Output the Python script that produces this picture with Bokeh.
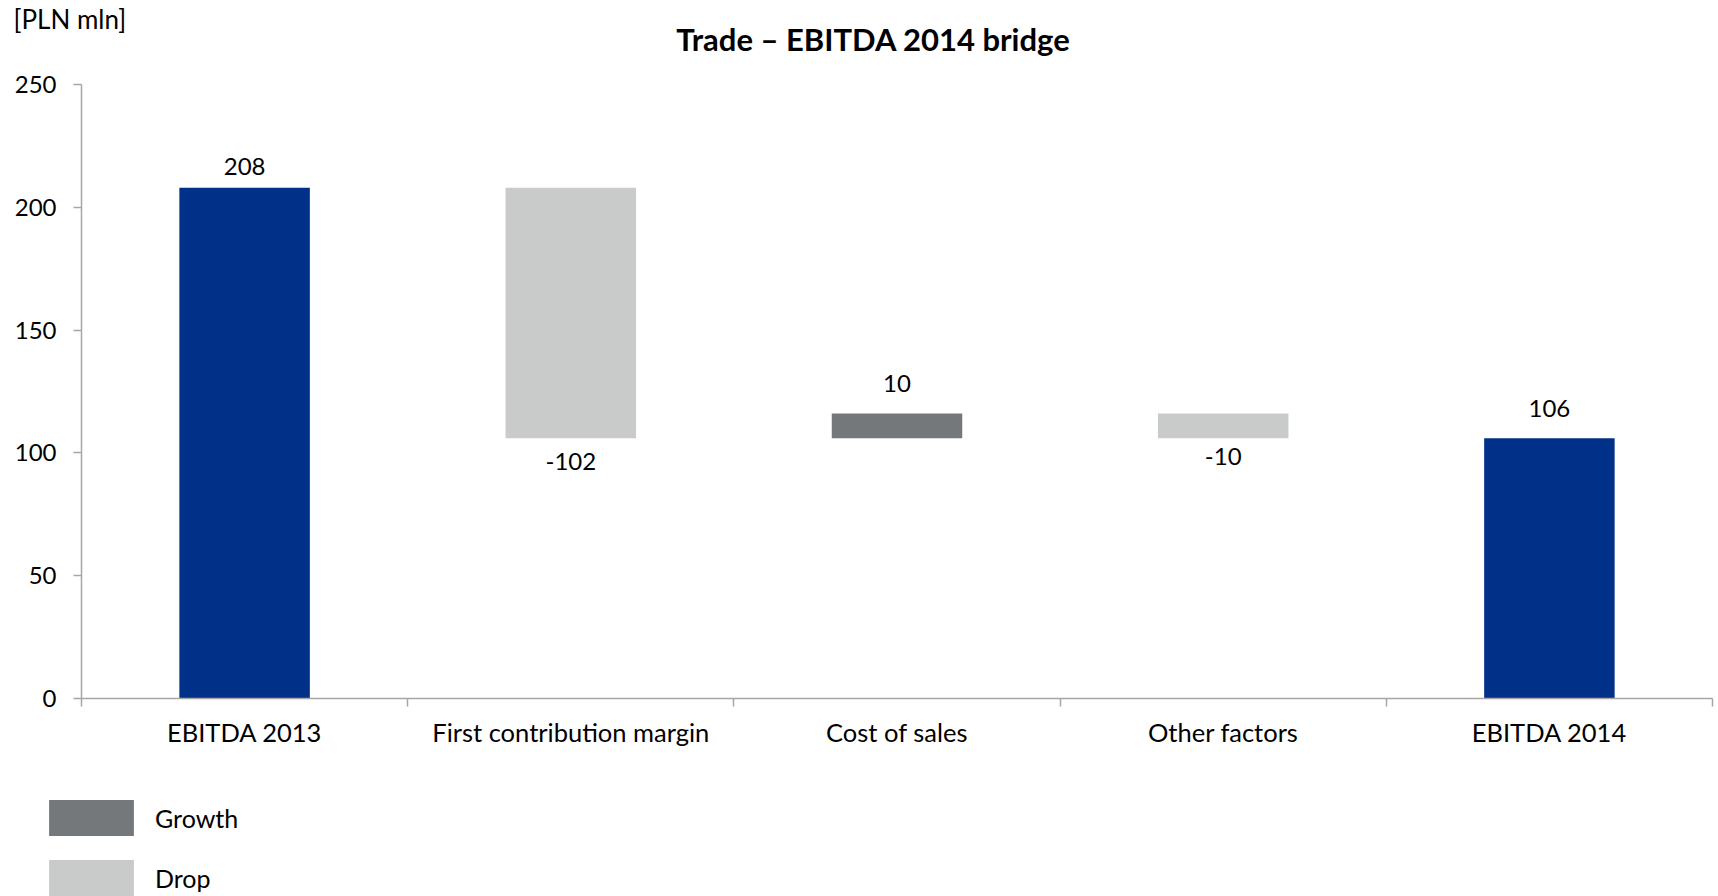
import numpy as np
from bokeh.plotting import figure
from bokeh.models import Range1d, FixedTicker, Label, Legend, LegendItem, ColumnDataSource
from bokeh.core.properties import value
from bokeh.embed import file_html
from bokeh.resources import INLINE

# ---- data ----
categories = ["EBITDA 2013", "First contribution margin", "Cost of sales", "Other factors", "EBITDA 2014"]
values = [208, -102, 10, -10, 106]
kinds = ["total", "change", "change", "change", "total"]
y_ticks = [0, 50, 100, 150, 200, 250]
legend_labels = ["Growth", "Drop"]
title_text = "Trade \u2013 EBITDA 2014 bridge"
unit_text = "[PLN mln]"

# ---- style ----
FONT = "Lato"
BLUE = "#003087"
GROWTH = "#75787B"
DROP = "#C9CBCA"
AXIS = "#A6A6A6"
W = 1718
label_dy = [-21, 23, -30, 18, -30]   # pixel nudges of the value labels

n = len(categories)
xs = np.arange(n) + 0.5
bottoms, tops = [], []
running = 0
for v, k in zip(values, kinds):
    if k == "total":
        bottoms.append(0)
        tops.append(v)
        running = v
    else:
        b, t = running, running + v
        bottoms.append(min(b, t))
        tops.append(max(b, t))
        running = running + v


def blank(height):
    f = figure(width=W, height=height, output_backend="svg", toolbar_location=None,
               x_range=Range1d(0, W), y_range=Range1d(height, 0),
               x_axis_type=None, y_axis_type=None,
               min_border_left=0, min_border_right=0, min_border_top=0, min_border_bottom=0)
    f.outline_line_color = None
    f.grid.visible = False
    return f

# ---- top strip: unit + title ----
TOP_H = 64
top = blank(TOP_H)
top.add_layout(Label(x=873, y=38, text=title_text, text_font=FONT, text_font_size="31px",
                     text_font_style="bold", text_align="center", text_baseline="alphabetic",
                     text_color="black"))
top.add_layout(Label(x=13, y=18, text=unit_text, text_font=FONT, text_font_size="26px",
                     text_align="left", text_baseline="alphabetic", text_color="black"))

# ---- main chart ----
MAIN_H = 716
p = figure(width=W, height=MAIN_H, output_backend="svg", toolbar_location=None,
           x_range=Range1d(0, n), y_range=Range1d(0, 250),
           min_border_left=81, min_border_right=6, min_border_top=20, min_border_bottom=82)
p.outline_line_color = None
p.grid.visible = False


def subset(cond):
    idx = [i for i in range(n) if cond(i)]
    return ColumnDataSource(dict(x=[xs[i] for i in idx], bottom=[bottoms[i] for i in idx],
                                 top=[tops[i] for i in idx]))

p.vbar(x="x", bottom="bottom", top="top", width=0.4, source=subset(lambda i: kinds[i] == "total"),
       fill_color=BLUE, line_color=None)
p.vbar(x="x", bottom="bottom", top="top", width=0.4,
       source=subset(lambda i: kinds[i] == "change" and values[i] > 0),
       fill_color=GROWTH, line_color=None)
p.vbar(x="x", bottom="bottom", top="top", width=0.4,
       source=subset(lambda i: kinds[i] == "change" and values[i] < 0),
       fill_color=DROP, line_color=None)

lab_src = ColumnDataSource(dict(
    x=list(xs),
    y=[tops[i] if values[i] >= 0 else bottoms[i] for i in range(n)],
    text=[str(v) for v in values],
    dy=label_dy,
))
p.text(x="x", y="y", text="text", y_offset="dy", source=lab_src,
       text_font=value(FONT), text_font_size="24px", text_align="center",
       text_baseline="alphabetic", text_color="black")

xa = p.xaxis[0]
xa.ticker = FixedTicker(ticks=list(xs), minor_ticks=list(range(n + 1)))
xa.major_label_overrides = {float(x): c for x, c in zip(xs, categories)}
xa.major_tick_out = 0
xa.major_tick_in = 0
xa.minor_tick_out = 8
xa.minor_tick_in = 0
xa.minor_tick_line_color = AXIS
xa.minor_tick_line_width = 1.5
xa.axis_line_color = AXIS
xa.axis_line_width = 1.5
xa.major_label_standoff = 10
xa.major_label_text_font = FONT
xa.major_label_text_font_size = "25.5px"
xa.major_label_text_color = "black"

ya = p.yaxis[0]
ya.ticker = FixedTicker(ticks=y_ticks)
ya.minor_tick_line_color = None
ya.major_tick_out = 8
ya.major_tick_in = 0
ya.major_tick_line_color = AXIS
ya.major_tick_line_width = 1.5
ya.axis_line_color = AXIS
ya.axis_line_width = 1.5
ya.major_label_standoff = 17
ya.major_label_text_font = FONT
ya.major_label_text_font_size = "24px"
ya.major_label_text_color = "black"

# ---- legend strip ----
LEG_H = 896 - TOP_H - MAIN_H
lg = blank(LEG_H)
# zero-area proxies that only carry the legend colours
r_g = lg.vbar(x=[0], bottom=[0], top=[0], width=0, fill_color=GROWTH, line_color=None)
r_d = lg.vbar(x=[0], bottom=[0], top=[0], width=0, fill_color=DROP, line_color=None)
legend = Legend(items=[LegendItem(label=legend_labels[0], renderers=[r_g]),
                       LegendItem(label=legend_labels[1], renderers=[r_d])],
                location=(38, -4), orientation="vertical",
                glyph_width=106, glyph_height=45, spacing=15, label_standoff=11,
                padding=0, margin=0, border_line_color=None, background_fill_alpha=0,
                label_text_font=FONT, label_text_font_size="25px", label_text_color="black")
lg.add_layout(legend, "center")

open("out.html", "w").write(file_html([top, p, lg], INLINE))
